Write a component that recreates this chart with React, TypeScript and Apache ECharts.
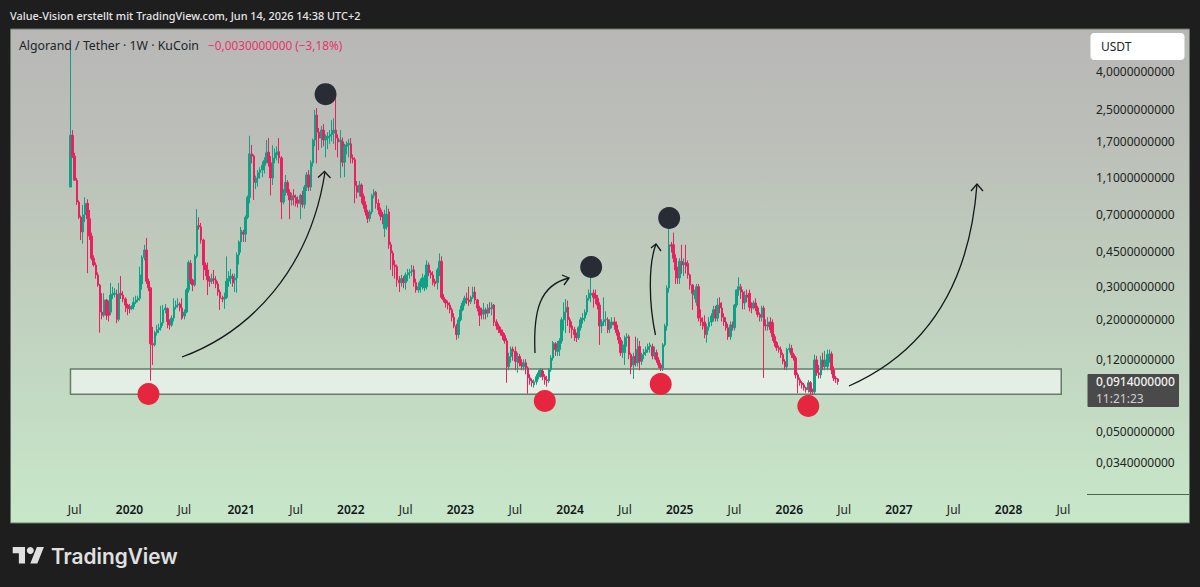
import React, { useEffect, useRef } from "react";
import * as echarts from "echarts";

// Each row: [open, close, low, high], one row per week.
const candles2019 = [
  [0.975,1.83,0.975,5.25],[1.83,1.42,1.39,1.95],[1.42,1.06,1.06,1.48],[1.06,0.813,0.785,1.09],[0.813,0.675,0.66,0.83],[0.675,0.565,0.512,0.69],[0.565,0.695,0.49,0.785],
  [0.695,0.8,0.637,0.86],[0.8,0.663,0.342,0.84],[0.663,0.537,0.512,0.738],[0.537,0.41,0.4,0.56],[0.41,0.378,0.37,0.425],[0.378,0.335,0.32,0.39],[0.335,0.296,0.29,0.345],
  [0.296,0.213,0.166,0.3],[0.213,0.205,0.195,0.268],[0.205,0.247,0.2,0.268],[0.247,0.205,0.194,0.25],[0.213,0.205,0.19,0.245],[0.213,0.262,0.205,0.304],[0.262,0.265,0.25,0.29],
  [0.265,0.268,0.255,0.285],[0.265,0.195,0.186,0.28],[0.195,0.268,0.19,0.304],[0.268,0.262,0.25,0.33],[0.262,0.25,0.24,0.275],[0.25,0.232,0.213,0.255],[0.232,0.224,0.205,0.236],
];
const candles2020 = [
  [0.226,0.222,0.21,0.235],[0.222,0.228,0.218,0.232],[0.228,0.24,0.22,0.255],[0.24,0.247,0.235,0.26],[0.247,0.252,0.24,0.26],[0.252,0.335,0.245,0.37],[0.3,0.415,0.28,0.425],
  [0.415,0.453,0.4,0.483],[0.453,0.31,0.3,0.525],[0.31,0.286,0.275,0.32],[0.286,0.145,0.0925,0.29],[0.145,0.143,0.112,0.178],[0.143,0.166,0.14,0.17],[0.166,0.172,0.16,0.182],
  [0.172,0.176,0.165,0.185],[0.176,0.187,0.17,0.23],[0.187,0.219,0.18,0.232],[0.219,0.224,0.21,0.235],[0.222,0.19,0.175,0.225],[0.19,0.182,0.172,0.195],[0.182,0.198,0.178,0.205],
  [0.198,0.226,0.19,0.252],[0.226,0.232,0.22,0.245],[0.232,0.235,0.225,0.252],[0.235,0.224,0.215,0.24],[0.224,0.198,0.194,0.252],[0.203,0.213,0.195,0.22],[0.213,0.279,0.21,0.285],
  [0.279,0.389,0.27,0.4],[0.385,0.315,0.3,0.4],[0.315,0.296,0.275,0.32],[0.296,0.42,0.29,0.43],[0.42,0.61,0.41,0.745],[0.61,0.6,0.58,0.675],[0.6,0.512,0.49,0.63],
  [0.512,0.378,0.315,0.52],[0.378,0.356,0.33,0.39],[0.356,0.315,0.262,0.389],[0.315,0.31,0.29,0.33],[0.31,0.32,0.3,0.34],[0.32,0.315,0.3,0.356],[0.315,0.3,0.285,0.33],
  [0.3,0.272,0.26,0.31],[0.272,0.252,0.219,0.28],[0.252,0.25,0.24,0.26],[0.25,0.255,0.222,0.27],[0.255,0.31,0.25,0.42],[0.31,0.32,0.29,0.35],[0.32,0.33,0.3,0.36],
  [0.33,0.304,0.29,0.34],[0.315,0.323,0.272,0.34],[0.323,0.427,0.27,0.44],[0.427,0.5,0.38,0.51],
];
const candles2021 = [
  [0.5,0.578,0.44,0.6],[0.565,0.55,0.5,0.58],[0.55,0.675,0.5,0.69],[0.675,0.86,0.66,0.88],[0.86,1.46,0.8,1.82],[1.46,1.42,1.3,1.63],[1.42,1.03,0.833,1.45],
  [1.03,1.09,0.95,1.12],[1.09,1.16,0.98,1.2],[1.16,1.2,1.08,1.24],[1.2,1.27,1.1,1.33],[1.27,1.35,1.15,1.4],[1.35,1.48,1.3,1.73],[1.49,1.31,1.25,1.77],
  [1.31,1.09,0.88,1.42],[1.09,1.39,1.0,1.62],[1.39,1.48,1.3,1.56],[1.44,1.5,1.35,1.6],[1.5,1.39,1.3,1.77],[1.39,0.813,0.66,1.42],[0.813,0.915,0.79,0.95],
  [0.915,1.03,0.88,1.13],[1.03,0.915,0.88,1.06],[0.915,0.833,0.66,0.95],[0.833,0.88,0.78,0.91],[0.88,0.86,0.78,0.95],[0.86,0.8,0.77,0.89],[0.833,0.8,0.76,0.87],
  [0.8,0.88,0.66,0.9],[0.88,0.79,0.76,0.93],[0.79,0.975,0.75,1.0],[0.975,1.13,0.93,1.17],[1.13,0.975,0.93,1.2],[0.975,1.31,0.93,1.35],[1.31,1.73,1.25,1.76],
  [1.73,2.34,1.6,2.49],[2.34,1.9,1.3,2.55],[1.9,1.77,1.53,2.0],[1.77,1.95,1.57,2.05],[1.95,1.73,1.6,2.1],[1.73,1.77,1.4,1.85],[1.77,1.81,1.55,1.9],
  [1.81,1.85,1.65,1.95],[1.85,1.95,1.7,2.2],[1.88,1.95,1.65,2.25],[1.95,1.77,1.53,2.91],[1.77,1.69,1.4,1.85],[1.69,1.73,1.09,1.95],[1.69,1.32,1.25,1.78],
  [1.32,1.6,1.1,1.65],[1.6,1.63,1.45,1.7],[1.63,1.66,1.4,1.75],
];
const candles2022 = [
  [1.65,1.39,1.3,1.77],[1.39,1.36,1.3,1.45],[1.36,0.99,0.8,1.4],[0.99,0.915,0.85,1.05],[0.915,1.0,0.87,1.05],[1.0,0.87,0.8,1.02],[0.87,0.785,0.75,0.9],
  [0.785,0.72,0.69,0.82],[0.72,0.665,0.63,0.74],[0.665,0.72,0.64,0.74],[0.72,0.88,0.7,0.9],[0.88,0.915,0.85,0.95],[0.915,0.8,0.75,0.93],[0.8,0.738,0.7,0.84],
  [0.738,0.685,0.65,0.76],[0.69,0.68,0.62,0.72],[0.59,0.7,0.53,0.74],[0.6,0.7,0.58,0.78],[0.72,0.483,0.46,0.75],[0.483,0.437,0.356,0.5],[0.437,0.378,0.33,0.45],
  [0.378,0.37,0.32,0.4],[0.37,0.315,0.29,0.38],[0.315,0.305,0.272,0.33],[0.305,0.32,0.29,0.335],[0.32,0.305,0.285,0.33],[0.305,0.335,0.28,0.345],[0.335,0.344,0.31,0.36],
  [0.344,0.348,0.32,0.36],[0.348,0.356,0.33,0.378],[0.356,0.305,0.29,0.375],[0.305,0.279,0.27,0.32],[0.279,0.29,0.27,0.305],[0.29,0.31,0.27,0.32],[0.29,0.323,0.28,0.34],
  [0.286,0.323,0.275,0.335],[0.29,0.378,0.28,0.4],[0.378,0.344,0.33,0.39],[0.344,0.335,0.32,0.355],[0.335,0.305,0.295,0.35],[0.31,0.3,0.29,0.32],[0.305,0.356,0.28,0.365],
  [0.356,0.395,0.33,0.435],[0.395,0.255,0.25,0.42],[0.255,0.247,0.24,0.265],[0.247,0.238,0.225,0.25],[0.238,0.232,0.22,0.245],[0.232,0.219,0.21,0.24],[0.219,0.2,0.19,0.225],
  [0.2,0.18,0.175,0.21],[0.18,0.162,0.152,0.185],[0.162,0.194,0.155,0.2],
];
const candles2023 = [
  [0.194,0.219,0.19,0.23],[0.219,0.238,0.215,0.245],[0.238,0.252,0.23,0.26],[0.252,0.247,0.235,0.27],[0.247,0.242,0.23,0.29],[0.242,0.255,0.235,0.26],[0.255,0.272,0.25,0.29],
  [0.272,0.247,0.235,0.29],[0.247,0.224,0.215,0.25],[0.224,0.205,0.18,0.23],[0.213,0.208,0.195,0.225],[0.208,0.219,0.195,0.238],[0.219,0.21,0.195,0.225],[0.21,0.224,0.2,0.235],
  [0.224,0.222,0.21,0.24],[0.222,0.232,0.205,0.24],[0.232,0.189,0.18,0.235],[0.189,0.18,0.172,0.195],[0.18,0.172,0.165,0.185],[0.172,0.166,0.16,0.178],[0.166,0.16,0.152,0.172],
  [0.16,0.15,0.145,0.165],[0.15,0.1095,0.0902,0.155],[0.1095,0.124,0.105,0.13],[0.124,0.136,0.115,0.14],[0.136,0.132,0.118,0.14],[0.132,0.117,0.105,0.14],[0.117,0.124,0.102,0.13],
  [0.124,0.115,0.11,0.128],[0.115,0.111,0.105,0.12],[0.1095,0.115,0.105,0.12],[0.115,0.108,0.1,0.12],[0.108,0.0957,0.079,0.11],[0.0957,0.0925,0.088,0.1],[0.0925,0.0902,0.086,0.095],
  [0.088,0.0913,0.085,0.094],[0.0913,0.097,0.088,0.1],[0.097,0.1017,0.094,0.105],[0.0993,0.1055,0.096,0.108],[0.104,0.097,0.093,0.107],[0.097,0.0935,0.088,0.1],[0.0935,0.0925,0.086,0.098],
  [0.0925,0.1055,0.09,0.108],[0.1055,0.122,0.103,0.126],[0.122,0.147,0.118,0.15],[0.145,0.135,0.125,0.148],[0.132,0.138,0.125,0.15],[0.135,0.15,0.125,0.155],[0.15,0.194,0.145,0.2],
  [0.194,0.213,0.17,0.24],[0.213,0.226,0.165,0.25],[0.226,0.194,0.18,0.245],
];
const candles2024 = [
  [0.194,0.177,0.165,0.2],[0.18,0.172,0.155,0.19],[0.172,0.162,0.15,0.178],[0.162,0.156,0.148,0.166],[0.156,0.176,0.152,0.18],[0.176,0.194,0.17,0.2],[0.194,0.198,0.185,0.21],
  [0.198,0.213,0.19,0.22],[0.213,0.252,0.205,0.262],[0.252,0.268,0.245,0.28],[0.262,0.268,0.24,0.325],[0.268,0.255,0.225,0.28],[0.262,0.252,0.235,0.28],[0.252,0.232,0.22,0.262],
  [0.232,0.18,0.143,0.24],[0.18,0.189,0.165,0.195],[0.189,0.194,0.18,0.255],[0.194,0.196,0.18,0.215],[0.194,0.172,0.165,0.2],[0.174,0.189,0.165,0.195],[0.182,0.189,0.175,0.2],
  [0.189,0.182,0.172,0.2],[0.182,0.166,0.16,0.19],[0.166,0.152,0.145,0.172],[0.152,0.13,0.125,0.157],[0.13,0.143,0.122,0.15],[0.13,0.156,0.112,0.16],[0.156,0.158,0.14,0.165],
  [0.158,0.127,0.12,0.162],[0.127,0.1095,0.1,0.13],[0.112,0.124,0.0945,0.13],[0.124,0.115,0.11,0.158],[0.115,0.135,0.11,0.155],[0.14,0.117,0.105,0.15],[0.117,0.127,0.112,0.13],
  [0.127,0.131,0.12,0.136],[0.13,0.135,0.125,0.14],[0.135,0.14,0.13,0.145],[0.14,0.143,0.13,0.147],[0.14,0.125,0.12,0.145],[0.127,0.13,0.12,0.14],[0.13,0.119,0.115,0.135],
  [0.119,0.112,0.108,0.123],[0.112,0.108,0.104,0.115],[0.108,0.143,0.104,0.146],[0.143,0.18,0.14,0.185],[0.18,0.286,0.17,0.295],[0.286,0.483,0.27,0.59],[0.483,0.475,0.44,0.5],
  [0.483,0.41,0.39,0.56],[0.41,0.356,0.3,0.43],[0.356,0.323,0.3,0.37],
];
const candles2025 = [
  [0.323,0.395,0.3,0.41],[0.395,0.378,0.34,0.483],[0.378,0.389,0.33,0.41],[0.389,0.372,0.34,0.483],[0.385,0.335,0.32,0.4],[0.335,0.296,0.28,0.34],[0.296,0.268,0.219,0.3],
  [0.262,0.272,0.25,0.28],[0.24,0.29,0.23,0.3],[0.29,0.198,0.19,0.3],[0.198,0.189,0.18,0.22],[0.189,0.18,0.172,0.2],[0.189,0.162,0.155,0.205],[0.162,0.178,0.147,0.185],
  [0.178,0.189,0.17,0.2],[0.189,0.203,0.18,0.21],[0.203,0.219,0.19,0.23],[0.219,0.198,0.19,0.23],[0.198,0.232,0.19,0.252],[0.238,0.224,0.21,0.255],[0.224,0.2,0.19,0.24],
  [0.2,0.189,0.18,0.21],[0.189,0.176,0.17,0.2],[0.176,0.158,0.152,0.185],[0.158,0.182,0.152,0.19],[0.182,0.18,0.17,0.19],[0.176,0.232,0.17,0.235],[0.232,0.279,0.225,0.28],
  [0.279,0.29,0.26,0.325],[0.29,0.272,0.25,0.3],[0.272,0.238,0.22,0.28],[0.238,0.262,0.22,0.275],[0.262,0.255,0.24,0.28],[0.268,0.226,0.215,0.28],[0.228,0.224,0.21,0.24],
  [0.226,0.238,0.22,0.245],[0.238,0.224,0.215,0.252],[0.224,0.207,0.2,0.23],[0.207,0.2,0.19,0.212],[0.2,0.224,0.19,0.23],[0.224,0.18,0.0957,0.23],[0.182,0.18,0.17,0.195],
  [0.178,0.189,0.17,0.2],[0.189,0.172,0.165,0.2],[0.187,0.158,0.15,0.195],[0.158,0.147,0.14,0.163],[0.147,0.138,0.133,0.15],[0.138,0.135,0.13,0.142],[0.135,0.127,0.122,0.14],
  [0.127,0.117,0.113,0.13],[0.117,0.1095,0.1055,0.12],[0.1095,0.135,0.105,0.138],
];
const candles2026 = [
  [0.135,0.137,0.13,0.145],[0.137,0.127,0.122,0.143],[0.127,0.122,0.118,0.13],[0.122,0.0993,0.095,0.125],[0.0993,0.0935,0.0795,0.102],[0.0935,0.0902,0.087,0.096],[0.0902,0.088,0.084,0.092],
  [0.088,0.0848,0.082,0.09],[0.0848,0.0828,0.08,0.086],[0.0828,0.0902,0.08,0.093],[0.0902,0.0808,0.078,0.092],[0.0825,0.0808,0.078,0.084],[0.0808,0.119,0.078,0.127],[0.119,0.1017,0.098,0.125],
  [0.1017,0.0993,0.095,0.112],[0.0993,0.119,0.095,0.125],[0.119,0.1095,0.105,0.13],[0.1095,0.119,0.105,0.133],[0.11,0.127,0.105,0.135],[0.127,0.128,0.115,0.135],[0.128,0.1055,0.1,0.132],
  [0.1055,0.0957,0.092,0.11],[0.0957,0.0945,0.09,0.098],[0.0944,0.0914,0.088,0.0955],
];

// TradingView rounds its scale labels, so a label can sit a little off its exact price.
const priceTickValues = [4, 2.5, 1.7, 1.1, 0.7, 0.445, 0.2925, 0.1936, 0.12, 0.05, 0.034];
const priceTickLabels = ["4,0000000000","2,5000000000","1,7000000000","1,1000000000","0,7000000000","0,4500000000","0,3000000000","0,2000000000","0,1200000000","0,0500000000","0,0340000000"];
const timeTickDates = ["2019-07-01","2019-12-30","2020-06-29","2021-01-04","2021-07-05","2022-01-03","2022-07-04","2023-01-02","2023-07-03","2024-01-01","2024-07-01","2024-12-30","2025-06-30","2025-12-29","2026-06-29","2026-12-28","2027-06-28","2027-12-27","2028-06-26"];
const timeTickLabels = ["Jul","2020","Jul","2021","Jul","2022","Jul","2023","Jul","2024","Jul","2025","Jul","2026","Jul","2027","Jul","2028","Jul"];

const firstAxisWeek = "2018-12-03";
const axisWeekCount = 510;
const leadingEmptyWeeks = 28;

// [week position on the axis, price]
const peakMarkers = [[149, 3.02], [275, 0.369], [312, 0.669]];
const troughMarkers = [[65, 0.0786], [253, 0.0722], [308, 0.0888], [378, 0.0679]];
const supportZone = { upper: 0.1066, lower: 0.0785, fromWeek: 28, toWeek: 498 };

const LOGO = "M14 22H7V11H0V4h14v18zM28 22h-8l7.5-18h8L28 22z";

export default function App() {
  const ref = useRef<HTMLDivElement>(null);
  useEffect(() => {
    document.body.style.margin = "0";
    document.body.style.background = "#1e1e1e";
    const chart = echarts.init(ref.current!, null, { renderer: "svg" });
    echarts.graphic.registerShape("tvlogo", echarts.graphic.extendPath(LOGO, {}) as any);

    const start = new Date(firstAxisWeek + "T00:00:00Z").getTime();
    const weeks = Array.from({ length: axisWeekCount }, (_, i) =>
      new Date(start + i * 7 * 86400000).toISOString().slice(0, 10)
    );
    const rows = [...candles2019, ...candles2020, ...candles2021, ...candles2022, ...candles2023, ...candles2024, ...candles2025, ...candles2026];
    const candleData = weeks.map((_, i) => {
      const r = rows[i - leadingEmptyWeeks];
      return r ? r : ["-", "-", "-", "-"];
    });
    const tickMap: Record<string, string> = {};
    timeTickDates.forEach((d, i) => (tickMap[d] = timeTickLabels[i]));

    const font = '"Noto Sans", sans-serif';
    const arrow = (p: number[], head: number[][], width = 1.3) => [
      {
        type: "bezierCurve", z: 50, silent: true,
        shape: { x1: p[0], y1: p[1], cpx1: p[2], cpy1: p[3], cpx2: p[4], cpy2: p[5], x2: p[6], y2: p[7] },
        style: { stroke: "#14181a", lineWidth: width, fill: "none" },
      },
      {
        type: "polyline", z: 50, silent: true,
        shape: { points: head },
        style: { stroke: "#14181a", lineWidth: width, fill: "none" },
      },
    ];

    chart.setOption({
      animation: false,
      backgroundColor: "#1e1e1e",
      grid: { left: 10.4, top: 29, width: 1075.1, height: 465, containLabel: false },
      xAxis: {
        type: "category",
        data: weeks,
        boundaryGap: true,
        axisLine: { show: false },
        axisTick: { show: false },
        splitLine: { show: false },
        axisLabel: {
          interval: (_: number, v: string) => v in tickMap,
          margin: 9,
          hideOverlap: false,
          showMinLabel: true,
          showMaxLabel: true,
          formatter: (v: string) => {
            const t = tickMap[v] ?? "";
            return t === "Jul" ? `{m|${t}}` : `{y|${t}}`;
          },
          rich: {
            m: { fontFamily: font, fontSize: 12, color: "#1c2420" },
            y: { fontFamily: font, fontSize: 12, fontWeight: 600, color: "#10161a" },
          },
        },
      },
      yAxis: {
        type: "log",
        logBase: 10,
        min: 0.0233,
        max: 6.67,
        position: "right",
        axisLine: { show: false },
        axisTick: { show: false },
        splitLine: { show: false },
        minorTick: { show: false },
        axisLabel: {
          customValues: priceTickValues,
          margin: 10.5,
          hideOverlap: false,
          fontFamily: font,
          fontSize: 12,
          color: "#1c2420",
          formatter: (v: number) => {
            let best = 0;
            priceTickValues.forEach((t, i) => {
              if (Math.abs(t - v) < Math.abs(priceTickValues[best] - v)) best = i;
            });
            return priceTickLabels[best];
          },
        },
      },
      series: [
        {
          type: "candlestick",
          z: 3,
          data: candleData,
          barWidth: 2,
          itemStyle: {
            color: "#10a085",
            color0: "#e8215f",
            borderColor: "#10a085",
            borderColor0: "#e8215f",
            borderWidth: 1,
          },
          markArea: {
            silent: true,
            z: 1,
            itemStyle: { color: "rgba(255,255,255,0.56)", borderColor: "#647d69", borderWidth: 1.5 },
            data: [[
              { xAxis: supportZone.fromWeek, yAxis: supportZone.upper },
              { xAxis: supportZone.toWeek, yAxis: supportZone.lower },
            ]],
          },
        },
        {
          type: "scatter",
          z: 6,
          silent: true,
          symbol: "circle",
          symbolSize: 22,
          data: peakMarkers,
          itemStyle: { color: "#282c34", opacity: 1 },
        },
        {
          type: "scatter",
          z: 6,
          silent: true,
          symbol: "circle",
          symbolSize: 22,
          data: troughMarkers,
          itemStyle: { color: "#e6263f", opacity: 1 },
        },
      ],
      graphic: {
        elements: [
          {
            type: "rect", z: -10, silent: true,
            shape: { x: 10.5, y: 29, width: 1179, height: 494 },
            style: {
              fill: {
                type: "linear", x: 0, y: 0, x2: 0, y2: 1,
                colorStops: [
                  { offset: 0, color: "#b8b7b6" },
                  { offset: 0.25, color: "#bcc0b9" },
                  { offset: 0.5, color: "#bfcdbd" },
                  { offset: 0.75, color: "#c3dac3" },
                  { offset: 1, color: "#c8e7c9" },
                ],
              },
              stroke: "#66786a",
              lineWidth: 1,
            },
          },
          { type: "line", z: 40, silent: true, shape: { x1: 1087, y1: 494.5, x2: 1189, y2: 494.5 }, style: { stroke: "#4b6650", lineWidth: 1 } },
          { type: "text", z: 60, silent: true, style: { x: 10, y: 15, text: "Value-Vision erstellt mit TradingView.com, Jun 14, 2026 14:38 UTC+2", fill: "#e6e6e6", font: `500 10.9px ${font}`, textVerticalAlign: "middle" } },
          { type: "text", z: 60, silent: true, style: { x: 19, y: 45, text: "Algorand / Tether · 1W · KuCoin", fill: "#20262a", font: `12.3px ${font}`, textVerticalAlign: "middle" } },
          { type: "text", z: 60, silent: true, style: { x: 208, y: 45, text: "−0,0030000000 (−3,18%)", fill: "#e8336a", font: `11.8px ${font}`, textVerticalAlign: "middle" } },
          { type: "rect", z: 60, silent: true, shape: { x: 1090.5, y: 33, width: 94, height: 27, r: 4 }, style: { fill: "#ffffff" } },
          { type: "text", z: 61, silent: true, style: { x: 1101, y: 46, text: "USDT", fill: "#20262a", font: `12px ${font}`, textVerticalAlign: "middle" } },
          { type: "rect", z: 60, silent: true, shape: { x: 1087.5, y: 374, width: 91.5, height: 33, r: 1 }, style: { fill: "#4a4a4a" } },
          { type: "text", z: 61, silent: true, style: { x: 1096, y: 381.5, text: "0,0914000000", fill: "#f2f2f2", font: `500 12px ${font}`, textVerticalAlign: "middle" } },
          { type: "text", z: 61, silent: true, style: { x: 1096, y: 398, text: "11:21:23", fill: "#cfcfcf", font: `12px ${font}`, textVerticalAlign: "middle" } },
          ...arrow([182, 357, 250, 332, 310, 270, 325, 172], [[318, 177.5], [324.5, 171.5], [330.5, 178]]),
          ...arrow([535, 353, 533, 310, 540, 285, 569, 278], [[562, 275], [569, 278], [564, 285]]),
          ...arrow([655.5, 335, 649, 305, 648, 265, 656, 244], [[651, 248], [656, 244], [661, 251]]),
          ...arrow([849, 386, 930, 350, 970, 280, 977, 184], [[971, 191], [977, 184], [983, 191]]),
          { type: "tvlogo", z: 60, silent: true, x: 12.7, y: 543.2, scaleX: 0.88, scaleY: 0.92, style: { fill: "#e0e0e0" } },
          { type: "circle", z: 60, silent: true, shape: { cx: 12.7 + 20 * 0.88, cy: 543.2 + 8 * 0.92, r: 3.5 }, style: { fill: "#e0e0e0" } },
          { type: "text", z: 60, silent: true, style: { x: 51, y: 556, text: "TradingView", fill: "#e0e0e0", font: `600 20.8px Inter, ${font}`, textVerticalAlign: "middle" } },
        ],
      },
    });
    return () => chart.dispose();
  }, []);
  return <div ref={ref} style={{ width: 1200, height: 587, position: "fixed", left: 0, top: 0 }} />;
}
